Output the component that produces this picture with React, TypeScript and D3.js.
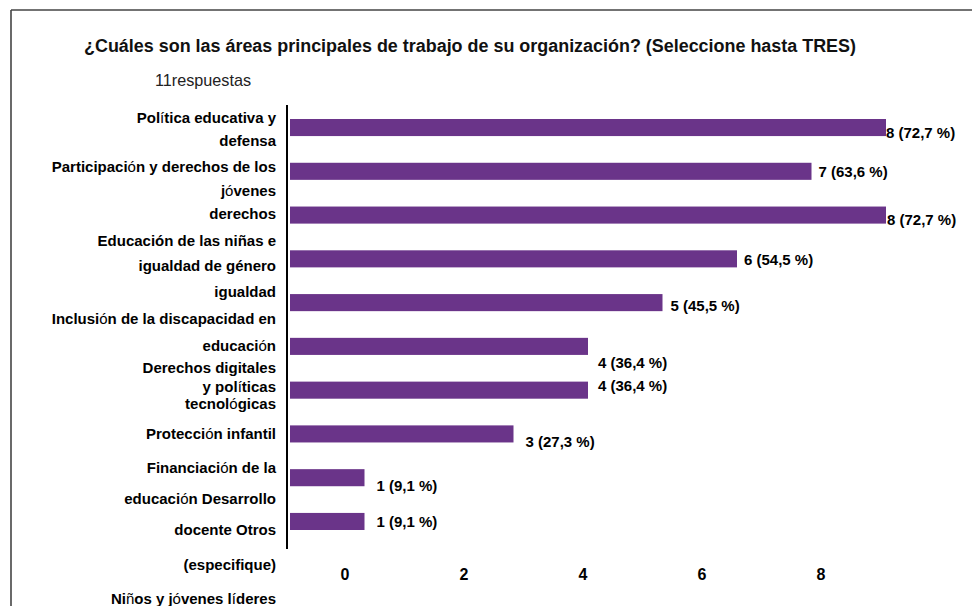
import React from 'react';
import * as d3 from 'd3';

// survey data
const totalResponses = 11;
const categories = [
  'Política educativa y defensa',
  'Participación y derechos de los jóvenes',
  'Educación de las niñas e igualdad de género',
  'Inclusión de la discapacidad en educación',
  'Derechos digitales y políticas tecnológicas',
  'Protección infantil',
  'Financiación de la educación',
  'Desarrollo docente',
  'Otros (especifique)',
  'Niños y jóvenes líderes',
];
const counts = [8, 7, 8, 6, 5, 4, 4, 3, 1, 1];
const axisTicks = [0, 2, 4, 6, 8];

// the left labels as they appear in the picture (lines drift away from the bars)
const labelLines = [
  'Política educativa y',
  'defensa',
  'Participación y derechos de los',
  'jóvenes',
  'derechos',
  'Educación de las niñas e',
  'igualdad de género',
  'igualdad',
  'Inclusión de la discapacidad en',
  'educación',
  'Derechos digitales',
  'y políticas',
  'tecnológicas',
  'Protección infantil',
  'Financiación de la',
  'educación Desarrollo',
  'docente Otros',
  '(especifique)',
  'Niños y jóvenes líderes',
];

// layout
const W = 972;
const H = 606;
const labelRight = 276;
const labelBaselines = [123, 146, 172, 196, 219, 246, 271, 297, 324, 351, 373, 392, 409, 439, 473, 504, 535, 570, 604];
const valueShift = [[0, 5], [7, 0], [1, 5], [7, 1], [8, 3], [10, 16], [10, -4], [12, 8], [12, 8], [12, 0]];
const purple = '#6a3489';
const font = '"Liberation Sans", Arial, Helvetica, sans-serif';

const lightChars = new Set(['ó', 'í', 'ñ']);

const LabelLine = ({ text, y }: { text: string; y: number }) => {
  const keepBold = text.includes('niñas') || text.includes('género');
  const parts: { s: string; light: boolean }[] = [];
  for (const ch of text) {
    const light = !keepBold && lightChars.has(ch);
    const last = parts[parts.length - 1];
    if (last && last.light === light) last.s += ch;
    else parts.push({ s: ch, light });
  }
  return (
    <text x={labelRight} y={y} textAnchor="end" fontSize={15} fontWeight="bold">
      {parts.map((p, i) => (
        <tspan key={i} fontWeight={p.light ? 'normal' : 'bold'}>{p.s}</tspan>
      ))}
    </text>
  );
};

export default function App() {
  const y = d3.scaleBand<string>().domain(categories).range([119, 530]).paddingInner(0.61).paddingOuter(0);
  const xBar = d3.scaleLinear().domain([0, 8]).range([290, 886]);
  const xAxis = d3.scaleLinear().domain([0, 8]).range([345, 821]);
  const pct = (v: number) => `${v} (${d3.format('.1f')((v / totalResponses) * 100).replace('.', ',')} %)`;

  return (
    <svg
      width={W}
      height={H}
      style={{ position: 'absolute', left: 0, top: 0, background: '#fff' }}
      fontFamily={font}
    >
      <rect x={0} y={0} width={W} height={H} fill="#fff" />
      {/* frame */}
      <line x1={11} x2={W} y1={10} y2={10} stroke="#444" strokeWidth={1.6} />
      <line x1={11} x2={11} y1={10} y2={H} stroke="#444" strokeWidth={1.6} />

      <text x={84} y={52} fontSize={18} fontWeight="bold" fill="#111" textLength={772} lengthAdjust="spacingAndGlyphs">
        ¿Cuáles son las áreas principales de trabajo de su organización? (Seleccione hasta TRES)
      </text>
      <text x={155} y={86} fontSize={17} fill="#222" textLength={96} lengthAdjust="spacingAndGlyphs">
        11respuestas
      </text>

      {labelLines.map((t, i) => (
        <LabelLine key={i} text={t} y={labelBaselines[i]} />
      ))}

      <line x1={287} x2={287} y1={105} y2={549} stroke="#000" strokeWidth={2} />

      {categories.map((c, i) => (
        <rect key={c} x={xBar(0)} y={y(c)} width={xBar(counts[i]) - xBar(0)} height={y.bandwidth()} fill={purple} />
      ))}

      {categories.map((c, i) => (
        <text
          key={c}
          x={xBar(counts[i]) + valueShift[i][0]}
          y={(y(c) ?? 0) + y.bandwidth() / 2 + valueShift[i][1]}
          dy="0.35em"
          fontSize={15}
          fontWeight="bold"
          fill="#000"
        >
          {pct(counts[i])}
        </text>
      ))}

      {axisTicks.map((t) => (
        <text key={t} x={xAxis(t)} y={574} dy="0.35em" textAnchor="middle" fontSize={16} fontWeight="bold">
          {t}
        </text>
      ))}
    </svg>
  );
}
